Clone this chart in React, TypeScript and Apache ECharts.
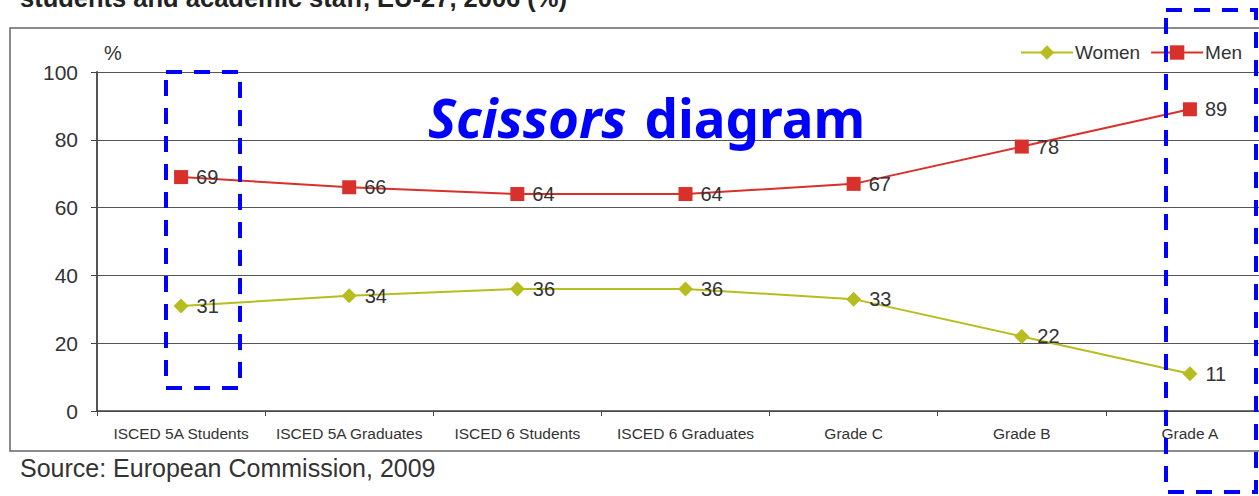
import React, { useEffect, useRef } from "react";
import * as echarts from "echarts";

const categories = [
  "ISCED 5A Students",
  "ISCED 5A Graduates",
  "ISCED 6 Students",
  "ISCED 6 Graduates",
  "Grade C",
  "Grade B",
  "Grade A",
];
const women = [31, 34, 36, 36, 33, 22, 11];
const men = [69, 66, 64, 64, 67, 78, 89];
const yTicks = [0, 20, 40, 60, 80, 100];

const WOMEN_COLOR = "#b7bd1e";
const MEN_COLOR = "#d8302b";

export default function App() {
  const ref = useRef<HTMLDivElement>(null);
  useEffect(() => {
    if (!ref.current) return;
    const chart = echarts.init(ref.current, null, { renderer: "svg" });
    const labelStyle = {
      show: true,
      position: "right",
      distance: 8,
      fontSize: 20,
      color: "#333",
      fontFamily: "Liberation Sans",
    };
    chart.setOption({
      animation: false,
      backgroundColor: "#fff",
      textStyle: { fontFamily: "Liberation Sans" },
      grid: { left: 97, top: 72, bottom: 85, right: 0, containLabel: false },
      legend: {
        left: 1015,
        top: 38,
        itemWidth: 52,
        itemHeight: 18,
        itemGap: 10,
        textStyle: { fontSize: 19, color: "#333", fontFamily: "Liberation Sans", padding: [0, 0, 0, -3] },
        data: ["Women", "Men"],
      },
      xAxis: {
        type: "category",
        data: categories,
        boundaryGap: true,
        axisLine: { lineStyle: { color: "#444", width: 1.5 } },
        axisTick: { show: true, length: 5, lineStyle: { color: "#444" } },
        axisLabel: { fontSize: 15.5, color: "#333", margin: 14, interval: 0 },
        splitLine: { show: false },
      },
      yAxis: {
        type: "value",
        min: yTicks[0],
        max: yTicks[yTicks.length - 1],
        interval: 20,
        axisLine: { show: true, lineStyle: { color: "#555", width: 2 } },
        axisTick: { show: true, length: 6, lineStyle: { color: "#444" } },
        axisLabel: { fontSize: 21, color: "#333", margin: 19 },
        splitLine: { show: true, lineStyle: { color: "#555", width: 1 } },
      },
      series: [
        {
          name: "Women",
          type: "line",
          data: women,
          symbol: "diamond",
          symbolSize: 15,
          itemStyle: { color: WOMEN_COLOR },
          lineStyle: { color: WOMEN_COLOR, width: 2 },
          label: labelStyle,
          z: 3,
        },
        {
          name: "Men",
          type: "line",
          data: men,
          symbol: "rect",
          symbolSize: 14,
          itemStyle: { color: MEN_COLOR },
          lineStyle: { color: MEN_COLOR, width: 2 },
          label: labelStyle,
          z: 3,
        },
      ],
      graphic: [
        {
          type: "text",
          left: 20,
          top: -15,
          style: {
            text: "students and academic staff, EU-27, 2006 (%)",
            fontSize: 25.5,
            fontWeight: "bold",
            fill: "#222",
            fontFamily: "Liberation Sans",
          },
        },
        {
          type: "rect",
          shape: { x: 10, y: 28, width: 1300, height: 423 },
          style: { fill: "none", stroke: "#666", lineWidth: 1.5 },
          z: 0,
        },
        {
          type: "text",
          left: 104,
          top: 43,
          style: { text: "%", fontSize: 20, fill: "#333", fontFamily: "Liberation Sans" },
        },
        {
          type: "text",
          left: 20,
          top: 455,
          style: {
            text: "Source: European Commission, 2009",
            fontSize: 25,
            fill: "#333",
            fontFamily: "Liberation Sans",
          },
        },
        {
          type: "text",
          left: 428,
          top: 91,
          z: 10,
          style: {
            text: "{a|Scissors}{b|diagram}",
            rich: {
              a: { fontSize: 53, fontWeight: "bold", fontStyle: "italic", fill: "#0000ff", fontFamily: "Noto Sans" },
              b: { fontSize: 53, fontWeight: "bold", fill: "#0000ff", fontFamily: "Noto Sans", padding: [0, 0, 0, 18] },
            },
          },
        },
        {
          type: "rect",
          z: 10,
          shape: { x: 166, y: 72, width: 74, height: 316 },
          style: { fill: "none", stroke: "#0000ff", lineWidth: 4, lineDash: [16, 12] },
        },
        {
          type: "rect",
          z: 10,
          shape: { x: 1166, y: 10, width: 90, height: 482 },
          style: { fill: "none", stroke: "#0000ff", lineWidth: 4, lineDash: [16, 12] },
        },
      ],
    });
    return () => chart.dispose();
  }, []);
  return (
    <div style={{ position: "fixed", left: 0, top: 0, width: 1259, height: 496, overflow: "hidden" }}>
      <div ref={ref} style={{ width: 1274, height: 496 }} />
    </div>
  );
}
